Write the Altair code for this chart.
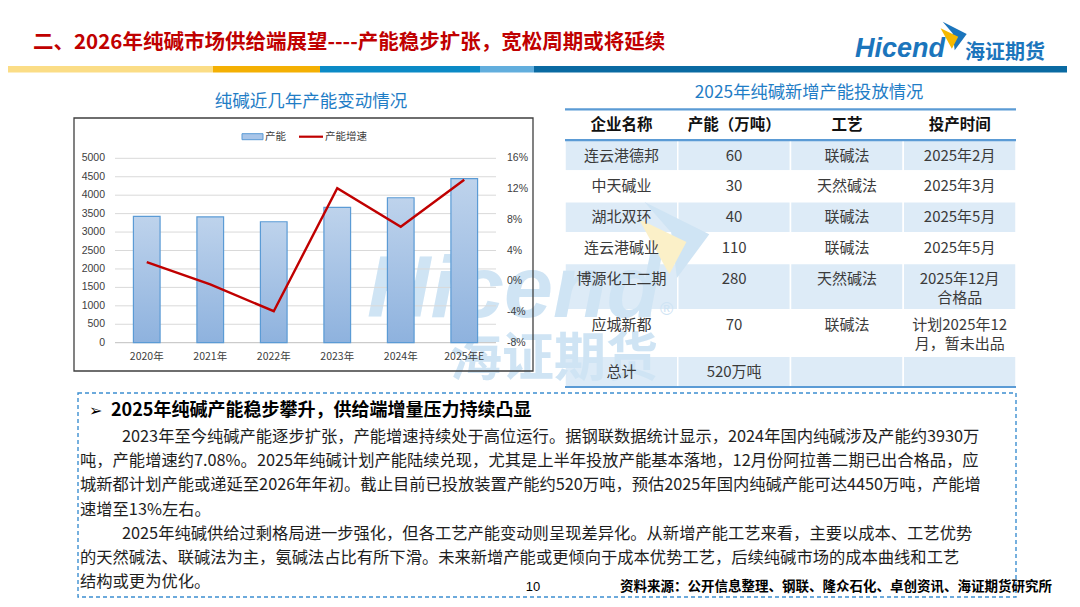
import altair as alt
import pandas as pd

CJK = "Noto Sans CJK SC"
LAT = "Liberation Sans"

# ---------------- data ----------------
years = ["2020年", "2021年", "2022年", "2023年", "2024年", "2025年E"]
capacity = [3425, 3410, 3280, 3670, 3930, 4450]          # 万吨
growth = [2.5, -0.4, -3.9, 12.1, 7.08, 13.2]             # %
cap_ticks = [0, 500, 1000, 1500, 2000, 2500, 3000, 3500, 4000, 4500, 5000]
growth_ticks = [-8, -4, 0, 4, 8, 12, 16]
series_names = ["产能", "产能增速"]

table_cols = ["企业名称", "产能（万吨）", "工艺", "投产时间"]
companies = ["连云港德邦", "中天碱业", "湖北双环", "连云港碱业", "博源化工二期", "应城新都"]
new_capacity = ["60", "30", "40", "110", "280", "70"]
processes = ["联碱法", "天然碱法", "联碱法", "联碱法", "天然碱法", "联碱法"]
start_dates = ["2025年2月", "2025年3月", "2025年5月", "2025年5月",
               "2025年12月\n合格品", "计划2025年12\n月，暂未出品"]
total_label = "总计"
total_value = "520万吨"

page_title = "二、2026年纯碱市场供给端展望----产能稳步扩张，宽松周期或将延续"
chart_title = "纯碱近几年产能变动情况"
table_title = "2025年纯碱新增产能投放情况"
heading = "2025年纯碱产能稳步攀升，供给端增量压力持续凸显"
paragraphs = [
    ["2023年至今纯碱产能逐步扩张，产能增速持续处于高位运行。据钢联数据统计显示，2024年国内纯碱涉及产能约3930万",
     "吨，产能增速约7.08%。2025年纯碱计划产能陆续兑现，尤其是上半年投放产能基本落地，12月份阿拉善二期已出合格品，应",
     "城新都计划产能或递延至2026年年初。截止目前已投放装置产能约520万吨，预估2025年国内纯碱产能可达4450万吨，产能增",
     "速增至13%左右。"],
    ["2025年纯碱供给过剩格局进一步强化，但各工艺产能变动则呈现差异化。从新增产能工艺来看，主要以成本、工艺优势",
     "的天然碱法、联碱法为主，氨碱法占比有所下滑。未来新增产能或更倾向于成本优势工艺，后续纯碱市场的成本曲线和工艺",
     "结构或更为优化。"],
]
source = "资料来源：公开信息整理、钢联、隆众石化、卓创资讯、海证期货研究所"
page_no = "10"
brand_en = "Hicend"
brand_cn = "海证期货"

# ---------------- helpers ----------------
W, H = 1064, 591
ONE = alt.Data(values=[{"k": 0}])


def text_at(s, x, y, size, color="#000000", weight="normal", align="left",
            font=CJK, baseline="middle", style="normal"):
    return alt.Chart(ONE).mark_text(
        text=s, fontSize=size, color=color, fontWeight=weight, align=align,
        baseline=baseline, font=font, fontStyle=style
    ).encode(x=alt.value(x), y=alt.value(y))


def box(x0, x1, y0, y1, **kw):
    return alt.Chart(ONE).mark_rect(**kw).encode(
        x=alt.value(x0), x2=alt.value(x1), y=alt.value(y0), y2=alt.value(y1))


def flag(cx, cy, size, blue, yellow):
    blue_path = "M-0.8,-1 L0.9,-0.15 L0.05,1 L-0.1,-0.2 Z"
    yel_path = "M-0.95,-0.55 L0.3,0.05 L-0.15,0.9 Z"
    a = alt.Chart(ONE).mark_point(shape=blue_path, filled=True, fill=blue, opacity=1,
                                  strokeWidth=0, size=size).encode(x=alt.value(cx), y=alt.value(cy))
    b = alt.Chart(ONE).mark_point(shape=yel_path, filled=True, fill=yellow, opacity=1,
                                  strokeWidth=0, size=size).encode(x=alt.value(cx), y=alt.value(cy))
    return [a, b]


layers = []

# ---------------- header ----------------
layers.append(text_at(page_title, 25, 35, 20.5, color="#C00000", weight="bold"))
stripe_cols = ["#FBDD86", "#F4B003", "#0B8AC6", "#62AEDD", "#0A6AA2"]
stripe_edges = [0, 205, 312, 472, 526, 1059]
for i, c in enumerate(stripe_cols):
    layers.append(box(stripe_edges[i], stripe_edges[i + 1], 58, 64.5, fill=c))
layers.append(text_at(brand_en, 847, 49, 27, color="#1B75BC", weight="bold",
                      font=LAT, baseline="alphabetic", style="italic"))
layers.append(text_at(brand_cn, 957, 45, 20, color="#1B75BC", weight="bold"))
layers += flag(946, 28, 800, "#1B75BC", "#F5B800")

# ---------------- table ----------------
TX0, TX1 = 557, 1008
x_tab = alt.Scale(domain=table_cols, range=[TX0, TX1], paddingInner=0, paddingOuter=0)

rows = [table_cols]
for i in range(len(companies)):
    rows.append([companies[i], new_capacity[i], processes[i], start_dates[i]])
rows.append([total_label, total_value, "", ""])

cell_recs, text_recs = [], []
top = 0.0
for r, row in enumerate(rows):
    nlines = max(len(v.split("\n")) for v in row)
    h = 2 + (nlines - 1)
    for c, v in enumerate(row):
        if r > 0:
            cell_recs.append({"col": table_cols[c], "top": top, "bot": top + h,
                              "shade": "a" if r % 2 == 1 else "b"})
        for li, part in enumerate(v.split("\n")):
            if part:
                text_recs.append({"col": table_cols[c], "t": part, "yy": top + 1 + 1.23 * li,
                                  "hdr": r == 0})
    top += h
total_units = top
y_tab = alt.Scale(domain=[0, total_units], range=[101.3, 379], nice=False, zero=False)
cells_df = pd.DataFrame(cell_recs)
ttext_df = pd.DataFrame(text_recs)

layers.append(alt.Chart(cells_df).mark_rect(stroke="white", strokeWidth=1.5).encode(
    x=alt.X("col:N", scale=x_tab, axis=None),
    y=alt.Y("top:Q", scale=y_tab, axis=None), y2="bot:Q",
    color=alt.Color("shade:N", scale=alt.Scale(domain=["a", "b"], range=["#DDEBF7", "#FFFFFF"]),
                    legend=None)))

# ---------------- watermark ----------------
WM = "#CFE4F4"
layers.append(text_at(brand_en, 359, 309, 88, color=WM, weight="bold", font=LAT,
                      baseline="alphabetic", style="italic"))
layers.append(text_at(brand_cn, 546, 352, 52, color=WM, weight="bold", align="center"))
layers.append(text_at("®", 652, 302, 18, color=WM, font=LAT))
layers += flag(667, 232, 5800, "#CFE4F4", "#FBF0C8")

# table lines & texts
tl_df = pd.DataFrame({"u": [0, 2, total_units]})
layers.append(alt.Chart(tl_df).mark_rule(color="#5B9BD5", strokeWidth=2.2).encode(
    y=alt.Y("u:Q", scale=y_tab, axis=None), x=alt.value(TX0), x2=alt.value(TX1)))
layers.append(alt.Chart(ttext_df).transform_filter("datum.hdr").mark_text(
    fontSize=15.5, font=CJK, fontWeight="bold", color="#111111", baseline="middle").encode(
    x=alt.X("col:N", scale=x_tab, axis=None), y=alt.Y("yy:Q", scale=y_tab, axis=None), text="t:N"))
layers.append(alt.Chart(ttext_df).transform_filter("!datum.hdr").mark_text(
    fontSize=15, font=CJK, color="#3A3A3A", baseline="middle").encode(
    x=alt.X("col:N", scale=x_tab, axis=None), y=alt.Y("yy:Q", scale=y_tab, axis=None), text="t:N"))
layers.append(text_at(table_title, 801, 85, 17.3, color="#1F7DC6", align="center"))

# ---------------- bar / line chart ----------------
PX0, PX1 = 107, 488
PY0, PY1 = 334.7, 150.3
x_band = alt.Scale(domain=years, range=[PX0, PX1], paddingInner=0.58, paddingOuter=0.29)
x_point = alt.Scale(type="point", domain=years, range=[PX0, PX1], padding=0.5)
y_cap = alt.Scale(domain=[0, 5000], range=[PY0, PY1], nice=False, zero=False)
y_gr = alt.Scale(domain=[-8, 16], range=[PY0, PY1], nice=False, zero=False)

chart_df = pd.DataFrame({"year": years, "cap": capacity, "growth": growth})
grid_df = pd.DataFrame({"v": cap_ticks, "lab": [str(v) for v in cap_ticks]})
gr_df = pd.DataFrame({"v": growth_ticks, "lab": [f"{v}%" for v in growth_ticks]})

layers.append(box(66, 525, 110, 363, fill="transparent", stroke="#3F3F3F", strokeWidth=1.3))
layers.append(text_at(chart_title, 303, 94, 17.5, color="#1F7DC6", align="center"))

layers.append(alt.Chart(grid_df).transform_filter("datum.v > 0").mark_rule(
    color="#D9D9D9", strokeWidth=1).encode(
    y=alt.Y("v:Q", scale=y_cap, axis=None), x=alt.value(PX0), x2=alt.value(PX1)))
layers.append(alt.Chart(grid_df).transform_filter("datum.v == 0").mark_rule(
    color="#BFBFBF", strokeWidth=1).encode(
    y=alt.Y("v:Q", scale=y_cap, axis=None), x=alt.value(PX0), x2=alt.value(PX1)))

grad = alt.Gradient(gradient="linear",
                    stops=[alt.GradientStop(color="#BED3EC", offset=0),
                           alt.GradientStop(color="#8EB2DE", offset=1)],
                    x1=0, x2=0, y1=0, y2=1)
layers.append(alt.Chart(chart_df).mark_bar(fill=grad, stroke="#5B9BD5", strokeWidth=1.2).encode(
    x=alt.X("year:N", scale=x_band, axis=None, sort=years),
    y=alt.Y("cap:Q", scale=y_cap, axis=None)))
layers.append(alt.Chart(chart_df).mark_line(color="#C00000", strokeWidth=2.4).encode(
    x=alt.X("year:N", scale=x_point, axis=None, sort=years),
    y=alt.Y("growth:Q", scale=y_gr, axis=None)))

layers.append(alt.Chart(grid_df).mark_text(align="right", baseline="middle", fontSize=10.5,
                                           color="#404040", font=LAT).encode(
    y=alt.Y("v:Q", scale=y_cap, axis=None), x=alt.value(97), text="lab:N"))
layers.append(alt.Chart(gr_df).mark_text(align="left", baseline="middle", fontSize=10.5,
                                         color="#404040", font=LAT).encode(
    y=alt.Y("v:Q", scale=y_gr, axis=None), x=alt.value(499), text="lab:N"))
layers.append(alt.Chart(chart_df).mark_text(align="center", baseline="middle", fontSize=10.5,
                                            color="#404040", font=CJK).encode(
    x=alt.X("year:N", scale=x_point, axis=None, sort=years), y=alt.value(349.3), text="year:N"))

# legend
layers.append(box(234, 255, 125.7, 131.7, fill="#A9C5E8", stroke="#5B9BD5", strokeWidth=1))
layers.append(text_at(series_names[0], 257, 128.7, 10.5, color="#404040"))
layers.append(alt.Chart(ONE).mark_rule(color="#C00000", strokeWidth=2.2).encode(
    x=alt.value(291), x2=alt.value(315), y=alt.value(128.7)))
layers.append(text_at(series_names[1], 317, 128.7, 10.5, color="#404040"))

# ---------------- text box ----------------
layers.append(box(70, 1008, 385, 589, fill="transparent", stroke="#3D8FD1",
                  strokeDash=[4, 3], strokeWidth=1.4))
layers.append(text_at("➢", 81, 403, 16, font="DejaVu Sans"))
layers.append(text_at(heading, 103, 403, 18, color="#000000", weight="bold"))

para_recs = []
li = 0
for p in paragraphs:
    for k, line in enumerate(p):
        para_recs.append({"t": line, "li": li, "ind": 2 if k == 0 else 0})
        li += 1
para_df = pd.DataFrame(para_recs)
layers.append(alt.Chart(para_df).mark_text(align="left", baseline="middle", fontSize=16.3,
                                           font=CJK, color="#1E1E1E").encode(
    x=alt.X("ind:Q", scale=alt.Scale(domain=[0, 2], range=[72, 114], nice=False, zero=False), axis=None),
    y=alt.Y("li:Q", scale=alt.Scale(domain=[0, len(para_recs) - 1], range=[429, 574],
                                    nice=False, zero=False), axis=None),
    text="t:N"))

layers.append(text_at(page_no, 525, 579, 13, color="#000000", align="center", font=LAT))
layers.append(text_at(source, 1044, 579, 13.5, color="#000000", weight="bold", align="right"))

chart = alt.layer(*layers).properties(
    width=W, height=H, padding=0, background="white",
    autosize=alt.AutoSizeParams(type="none"),
).resolve_scale(x="independent", y="independent", color="independent").configure_view(stroke=None)

chart.save("out.html", embed_options={"renderer": "svg", "actions": False})
